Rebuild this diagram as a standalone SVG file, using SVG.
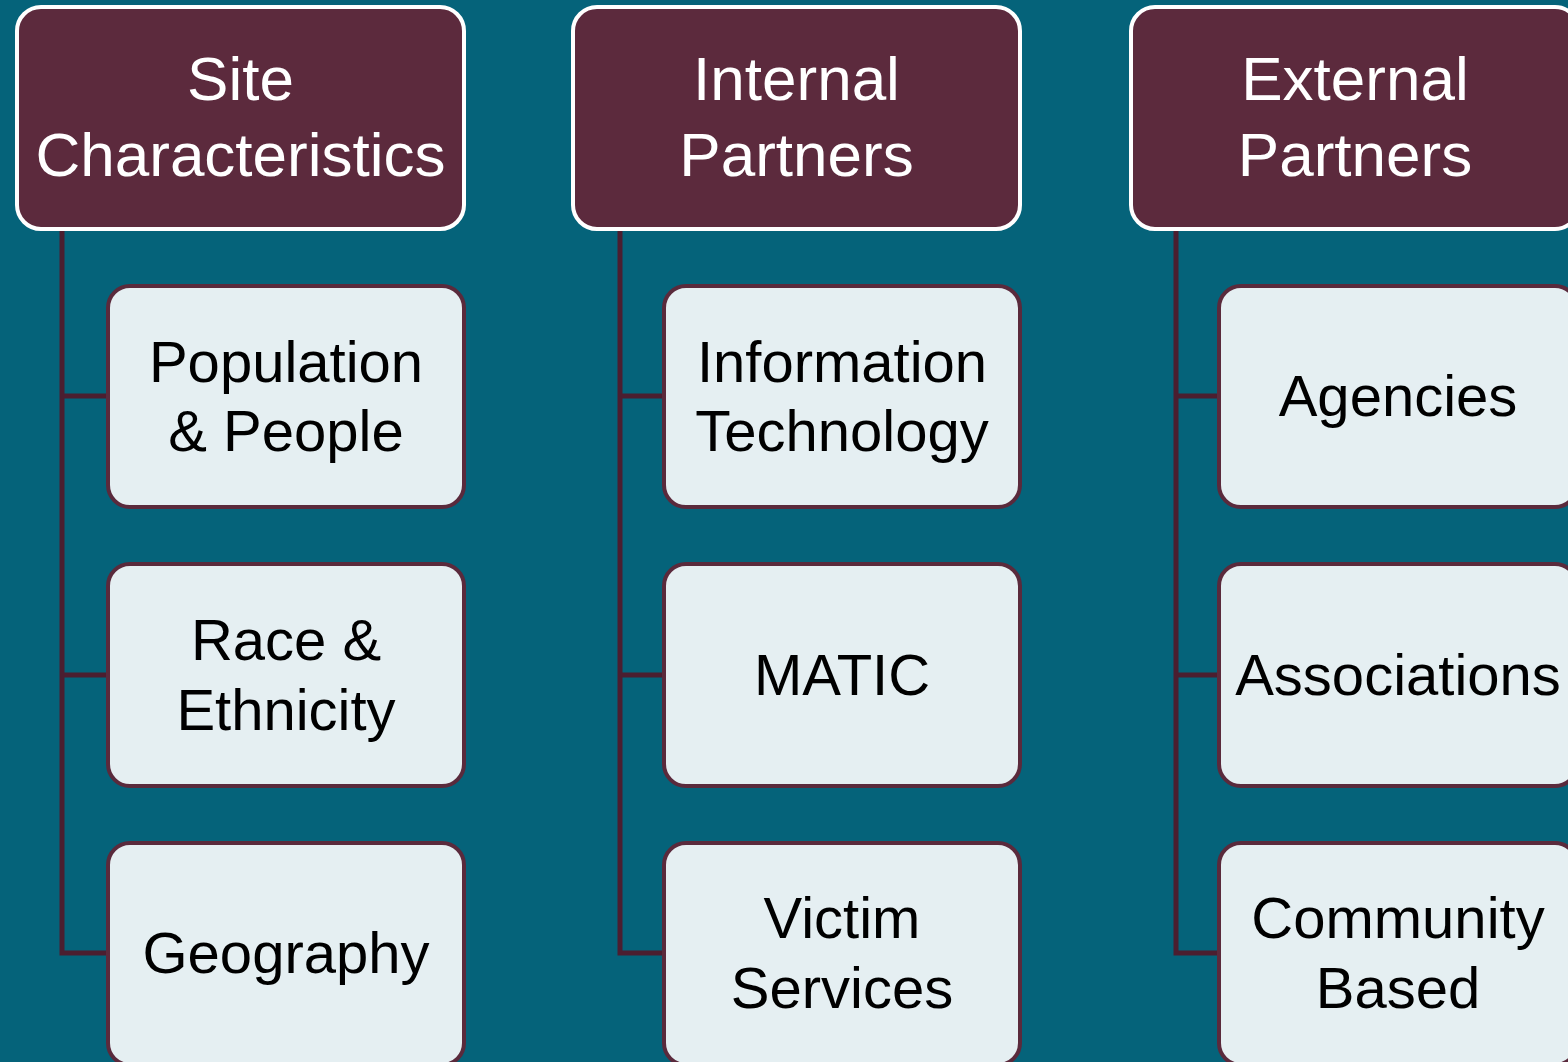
<svg xmlns="http://www.w3.org/2000/svg" width="1568" height="1062" viewBox="0 0 1568 1062">
<style>
.hdr{fill:#5c2a3d;stroke:#ffffff;stroke-width:4}
.child{fill:#e5eff2;stroke:#5a2a3c;stroke-width:4}
.ht{font-family:"Liberation Sans",Arial,sans-serif;font-size:62px;fill:#ffffff;text-anchor:middle}
.ct{font-family:"Liberation Sans",Arial,sans-serif;font-size:58px;fill:#000000;text-anchor:middle}
.conn{fill:none;stroke:#4b1e30;stroke-width:5}
</style>
<rect x="0" y="0" width="1568" height="1062" fill="#05637a"/>
<g id="connectors">
<path class="conn" d="M62,229 V953 H108 M62,396 H108 M62,675 H108"/>
<path class="conn" d="M620,229 V953 H664 M620,396 H664 M620,675 H664"/>
<path class="conn" d="M1176,229 V953 H1219 M1176,396 H1219 M1176,675 H1219"/>
</g>
<g id="site">
<rect class="hdr" x="17" y="7" width="447" height="222" rx="24"/>
<text class="ht" x="240.5" y="100">Site</text>
<text class="ht" x="240.5" y="176">Characteristics</text>
</g>
<g id="population">
<rect class="child" x="108" y="286" width="356" height="221" rx="22"/>
<text class="ct" x="286" y="382">Population</text>
<text class="ct" x="286" y="451">&amp; People</text>
</g>
<g id="race">
<rect class="child" x="108" y="564" width="356" height="222" rx="22"/>
<text class="ct" x="286" y="660">Race &amp;</text>
<text class="ct" x="286" y="730">Ethnicity</text>
</g>
<g id="geography">
<rect class="child" x="108" y="843" width="356" height="222" rx="22"/>
<text class="ct" x="286" y="973">Geography</text>
</g>
<g id="internal">
<rect class="hdr" x="573" y="7" width="447" height="222" rx="24"/>
<text class="ht" x="796.5" y="100">Internal</text>
<text class="ht" x="796.5" y="176">Partners</text>
</g>
<g id="it">
<rect class="child" x="664" y="286" width="356" height="221" rx="22"/>
<text class="ct" x="842" y="382">Information</text>
<text class="ct" x="842" y="451">Technology</text>
</g>
<g id="matic">
<rect class="child" x="664" y="564" width="356" height="222" rx="22"/>
<text class="ct" x="842" y="695">MATIC</text>
</g>
<g id="victim">
<rect class="child" x="664" y="843" width="356" height="222" rx="22"/>
<text class="ct" x="842" y="938">Victim</text>
<text class="ct" x="842" y="1008">Services</text>
</g>
<g id="external">
<rect class="hdr" x="1131" y="7" width="448" height="222" rx="24"/>
<text class="ht" x="1355" y="100">External</text>
<text class="ht" x="1355" y="176">Partners</text>
</g>
<g id="agencies">
<rect class="child" x="1219" y="286" width="358" height="221" rx="22"/>
<text class="ct" x="1398" y="416">Agencies</text>
</g>
<g id="associations">
<rect class="child" x="1219" y="564" width="358" height="222" rx="22"/>
<text class="ct" x="1398" y="695">Associations</text>
</g>
<g id="community">
<rect class="child" x="1219" y="843" width="358" height="222" rx="22"/>
<text class="ct" x="1398" y="938">Community</text>
<text class="ct" x="1398" y="1008">Based</text>
</g>
</svg>
